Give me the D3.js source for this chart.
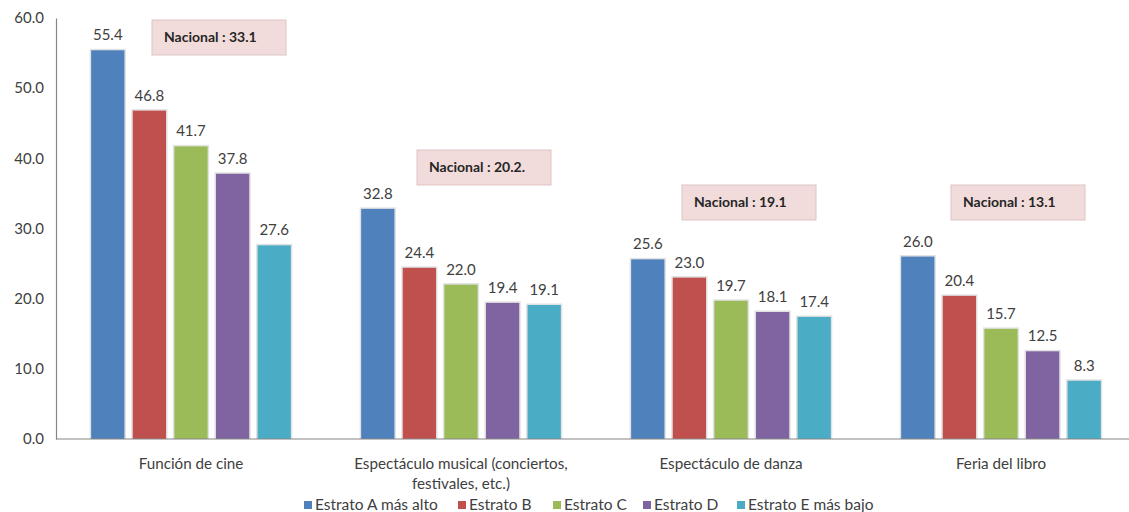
<!DOCTYPE html>
<html><head><meta charset="utf-8">
<script src="https://cdn.jsdelivr.net/npm/d3@7"></script>
<style>body{margin:0;background:#fff}svg{display:block}text{font-family:Lato,"Open Sans",sans-serif}</style>
</head><body><svg id="c" width="1129" height="512"></svg>
<script>
const categories = [["Función de cine"], ["Espectáculo musical (conciertos,", "festivales, etc.)"], ["Espectáculo de danza"], ["Feria del libro"]];
const seriesNames = ["Estrato A más alto", "Estrato B", "Estrato C", "Estrato D", "Estrato E más bajo"];
const estratoA = [55.4, 32.8, 25.6, 26.0];
const estratoB = [46.8, 24.4, 23.0, 20.4];
const estratoC = [41.7, 22.0, 19.7, 15.7];
const estratoD = [37.8, 19.4, 18.1, 12.5];
const estratoE = [27.6, 19.1, 17.4, 8.3];
const nacionalLabels = ["Nacional : 33.1", "Nacional : 20.2.", "Nacional : 19.1", "Nacional : 13.1"];
const yTicks = [0, 10, 20, 30, 40, 50, 60];

const colors = ["#4f81bd", "#c0504d", "#9bbb59", "#8064a2", "#4bacc6"];
const seriesValues = [estratoA, estratoB, estratoC, estratoD, estratoE];
// layout of annotation boxes (offset from group centre, top y)
const boxLayout = [{dx: -39, y: 20}, {dx: -44, y: 150}, {dx: -49, y: 185}, {dx: -50, y: 185}];

const svg = d3.select("#c");
const x0 = d3.scaleBand().domain(d3.range(4)).range([56, 1136]).padding(0);
const x1 = d3.scaleBand().domain(d3.range(5)).range([31, 239]).paddingInner(0.2).paddingOuter(0.1);
const y = d3.scaleLinear().domain([0, 60]).range([439, 18]);

// y axis
const yAxis = svg.append("g").attr("transform", "translate(56,0)")
  .call(d3.axisLeft(y).tickValues(yTicks).tickFormat(d3.format(".1f")).tickSize(0).tickPadding(12));
yAxis.select(".domain").attr("stroke", "#868686").attr("stroke-width", 1.2);
yAxis.selectAll("text").attr("font-size", 15).attr("fill", "#404040").style("font-family", "Lato, 'Open Sans', sans-serif");

// bars
const groups = svg.selectAll("g.grp").data(d3.range(4)).join("g").attr("class", "grp")
  .attr("transform", i => `translate(${x0(i)},0)`);
groups.each(function(gi) {
  const g = d3.select(this);
  seriesValues.forEach((vals, si) => {
    const v = vals[gi];
    g.append("rect")
      .attr("x", x1(si) - 1.5).attr("y", y(v) - 1.5)
      .attr("width", x1.bandwidth() + 3).attr("height", y(0) - y(v) + 1.5)
      .attr("fill", "#e2e2e2");
    g.append("rect")
      .attr("x", x1(si)).attr("y", y(v))
      .attr("width", x1.bandwidth()).attr("height", y(0) - y(v))
      .attr("fill", colors[si]);
    g.append("text")
      .attr("x", x1(si) + x1.bandwidth() / 2).attr("y", y(v) - 10)
      .attr("text-anchor", "middle").attr("font-size", 15).attr("fill", "#404040")
      .text(d3.format(".1f")(v));
  });
  // annotation box
  const cx = x0(gi) + x0.bandwidth() / 2;
  const b = boxLayout[gi];
  g.append("rect").attr("x", cx - x0(gi) + b.dx).attr("y", b.y).attr("width", 134).attr("height", 35)
    .attr("fill", "#f2dcdb").attr("stroke", "#dcc4c3").attr("stroke-width", 1);
  g.append("text").attr("x", cx - x0(gi) + b.dx + 12).attr("y", b.y + 22)
    .attr("font-size", 14).attr("font-weight", "bold").attr("fill", "#262626")
    .text(nacionalLabels[gi]);
  // category label
  const t = g.append("text").attr("text-anchor", "middle").attr("font-size", 15.2).attr("fill", "#404040");
  categories[gi].forEach((line, li) => {
    t.append("tspan").attr("x", x0.bandwidth() / 2).attr("y", 469 + li * 20).text(line);
  });
});

// x axis line
svg.append("line").attr("x1", 56).attr("x2", 1136).attr("y1", y(0)).attr("y2", y(0))
  .attr("stroke", "#868686").attr("stroke-width", 1.2);

// legend
const legendX = [304, 458, 553, 643, 737];
const lg = svg.append("g");
seriesNames.forEach((n, i) => {
  lg.append("rect").attr("x", legendX[i]).attr("y", 501).attr("width", 8).attr("height", 8).attr("fill", colors[i]);
  lg.append("text").attr("x", legendX[i] + 11).attr("y", 510).attr("font-size", 15.5).attr("fill", "#404040").text(n);
});
</script></body></html>
